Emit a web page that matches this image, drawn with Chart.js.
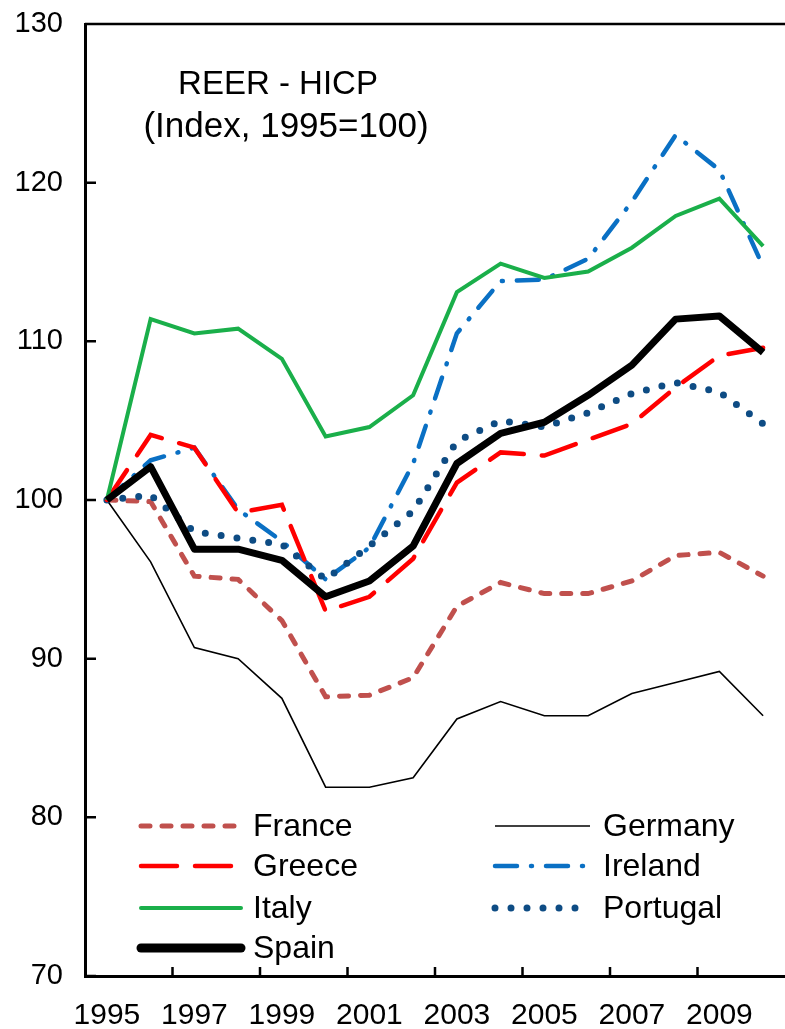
<!DOCTYPE html>
<html>
<head>
<meta charset="utf-8">
<script src="https://cdn.jsdelivr.net/npm/chart.js@4.4.1/dist/chart.umd.min.js"></script>
<style>
  html, body { margin: 0; padding: 0; background: #fff; }
  #wrap { width: 785px; height: 1029px; position: relative; }
</style>
</head>
<body>
<div id="wrap"><canvas id="reer"></canvas></div>
<script>
// data (index, 1995=100)
const years = ['1995','1996','1997','1998','1999','2000','2001','2002','2003','2004','2005','2006','2007','2008','2009','2010'];
const france   = [100, 99.9, 95.2, 95.0, 92.4, 87.6, 87.7, 88.8, 93.3, 94.8, 94.1, 94.1, 94.9, 96.5, 96.7, 95.2];
const germany  = [100, 96.1, 90.7, 90.0, 87.5, 81.9, 81.9, 82.5, 86.2, 87.3, 86.4, 86.4, 87.8, 88.5, 89.2, 86.4];
const greece   = [100, 104.1, 103.3, 99.2, 99.7, 93.0, 93.9, 96.3, 101.1, 103.0, 102.8, 103.8, 104.8, 107.1, 109.1, 109.6];
const ireland  = [100, 102.5, 103.3, 99.4, 97.4, 95.0, 97.0, 102.3, 110.5, 113.8, 113.9, 115.2, 118.8, 123.0, 120.8, 114.7];
const italy    = [100, 111.4, 110.5, 110.8, 108.9, 104.0, 104.6, 106.6, 113.1, 114.9, 114.0, 114.4, 115.9, 117.9, 119.0, 116.0];
const portugal = [100, 100.3, 98.0, 97.6, 97.2, 95.0, 97.1, 99.3, 103.7, 105.0, 104.6, 105.5, 106.7, 107.4, 106.8, 104.8];
const spain    = [100, 102.1, 96.9, 96.9, 96.2, 93.9, 94.9, 97.1, 102.3, 104.2, 104.9, 106.6, 108.5, 111.4, 111.6, 109.3];
const yTicks = [70, 80, 90, 100, 110, 120, 130];
const titleLines = ['REER - HICP', '(Index, 1995=100)'];

const FONT = '"Liberation Sans", Arial, sans-serif';

const datasets = [
  { label: 'France', data: france, borderColor: '#C0504D', borderWidth: 5, borderDash: [9, 12], borderCapStyle: 'round', order: 5 },
  { label: 'Germany', data: germany, borderColor: '#000000', borderWidth: 1.6, order: 6 },
  { label: 'Greece', data: greece, borderColor: '#FF0000', borderWidth: 4.5, borderDash: [36, 18], borderCapStyle: 'round', order: 2 },
  { label: 'Ireland', data: ireland, borderColor: '#0A70C4', borderWidth: 4.5, borderDash: [22, 14, 1, 14], borderCapStyle: 'round', order: 4 },
  { label: 'Italy', data: italy, borderColor: '#1AAF4A', borderWidth: 4, order: 1 },
  { label: 'Portugal', data: portugal, borderColor: '#0E4C84', borderWidth: 7, borderDash: [0, 16], borderCapStyle: 'round', order: 3 },
  { label: 'Spain', data: spain, borderColor: '#000000', borderWidth: 7, borderJoinStyle: 'round', order: 0 }
];
datasets.forEach(d => { d.pointRadius = 0; d.tension = 0; d.fill = false; });

// inward tick marks, top frame line, title and the in-plot legend
const decor = {
  id: 'decor',
  afterDraw(chart) {
    const { ctx, chartArea: a, scales: { x, y } } = chart;
    ctx.save();
    ctx.strokeStyle = '#000';
    ctx.lineWidth = 2.5;
    ctx.beginPath();
    ctx.moveTo(a.left, a.top);
    ctx.lineTo(a.right, a.top);
    yTicks.forEach(v => {
      const py = y.getPixelForValue(v);
      ctx.moveTo(a.left, py);
      ctx.lineTo(a.left + 11, py);
    });
    for (let i = 2; i < years.length; i += 2) {
      const px = (x.getPixelForValue(i - 1) + x.getPixelForValue(i)) / 2;
      ctx.moveTo(px, a.bottom);
      ctx.lineTo(px, a.bottom - 9);
    }
    ctx.stroke();

    ctx.fillStyle = '#000';
    ctx.textAlign = 'center';
    ctx.textBaseline = 'alphabetic';
    ctx.font = '33px ' + FONT;
    ctx.fillText(titleLines[0], 278, 94);
    ctx.font = '35px ' + FONT;
    ctx.fillText(titleLines[1], 286, 137);

    // legend, two columns
    const cols = [{ x0: 141, x1: 241, tx: 253 }, { x0: 495, x1: 590, tx: 603 }];
    const rows = [826, 866, 908, 948];
    ctx.textAlign = 'left';
    ctx.textBaseline = 'middle';
    chart.data.datasets.forEach((d, i) => {
      const c = cols[i % 2];
      const ry = rows[Math.floor(i / 2)];
      ctx.save();
      ctx.strokeStyle = d.borderColor;
      ctx.lineWidth = d.label === 'Spain' ? 9 : d.borderWidth;
      ctx.lineCap = d.borderDash ? 'round' : (d.label === 'Spain' || d.label === 'Italy' ? 'round' : 'butt');
      ctx.setLineDash(d.borderDash || []);
      ctx.beginPath();
      ctx.moveTo(c.x0, ry);
      ctx.lineTo(c.x1, ry);
      ctx.stroke();
      ctx.restore();
      ctx.fillStyle = '#000';
      ctx.font = '32px ' + FONT;
      ctx.fillText(d.label, c.tx, ry + 1);
    });
    ctx.restore();
  }
};

new Chart(document.getElementById('reer'), {
  type: 'line',
  data: { labels: years, datasets },
  options: {
    responsive: true,
    maintainAspectRatio: false,
    animation: false,
    layout: { autoPadding: false, padding: { top: 24, right: 0, left: 0, bottom: 0 } },
    plugins: { legend: { display: false }, tooltip: { enabled: false }, title: { display: false } },
    scales: {
      x: {
        offset: true,
        grid: { display: false, drawTicks: false },
        border: { display: true, color: '#000', width: 3 },
        ticks: {
          autoSkip: false, maxRotation: 0, padding: 22, color: '#000',
          font: { family: FONT, size: 30 },
          callback: (v, i) => (i % 2 === 0 ? years[i] : '')
        },
        afterFit: s => { s.height = 53; s.paddingLeft = 0; s.paddingRight = 0; }
      },
      y: {
        min: 70, max: 130,
        grid: { display: false, drawTicks: false },
        border: { display: true, color: '#000', width: 3 },
        ticks: { stepSize: 10, padding: 22, color: '#000', font: { family: FONT, size: 29 } },
        afterFit: s => { s.width = 85; s.paddingTop = 0; s.paddingBottom = 0; }
      }
    }
  },
  plugins: [decor]
});
</script>
</body>
</html>
